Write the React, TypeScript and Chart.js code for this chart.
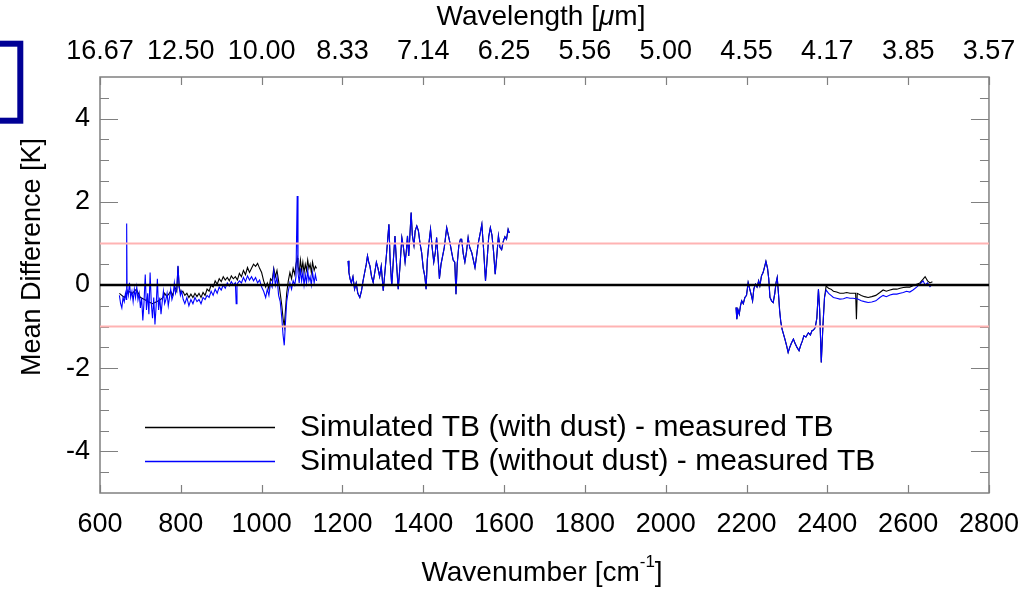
import React, { useEffect, useRef } from "react";
import { Chart, registerables } from "chart.js";
Chart.register(...registerables);

const FONT = "'Liberation Sans', Arial, Helvetica, sans-serif";

// Axis ticks
const xTickValues = [600, 800, 1000, 1200, 1400, 1600, 1800, 2000, 2200, 2400, 2600, 2800];
const yTickValues = [-4, -2, 0, 2, 4];
const refLevels = [-1, 1];
const zeroLevel = 0;

// Blue: Simulated TB (without dust) - measured TB
const blueWn1 = [648, 651, 654, 657, 660, 663, 665, 666, 667, 670, 673, 676, 679, 682, 685, 688, 691, 694, 697, 700, 703, 706, 709, 712, 715, 718, 721, 724, 727, 730, 733, 736, 739, 742, 745, 748, 751, 754, 757, 760, 763, 766, 769, 772, 775, 778, 781, 784, 787, 790, 793, 796, 799, 802, 806, 810, 815, 820, 825, 830, 835, 840, 845, 850, 855, 860, 865, 870, 875, 880, 885, 890, 895, 900, 905, 910, 915, 920, 925, 930, 935, 937, 939, 945, 950, 955, 960, 965, 970, 975, 980, 985, 990, 995, 1000, 1005, 1010, 1014, 1018, 1022, 1026, 1030, 1034, 1038, 1042, 1046, 1050, 1053, 1056, 1059, 1062, 1066, 1070, 1074, 1078, 1082, 1085, 1088, 1090, 1093, 1096, 1099, 1102, 1105, 1108, 1111, 1114, 1117, 1120, 1123, 1126, 1130, 1133, 1136];
const blueVal1 = [-0.25, -0.45, -0.55, -0.3, -0.4, -0.2, -0.35, 1.48, -0.1, -0.25, 0.05, -0.3, -0.15, -0.4, -0.1, -0.3, -0.05, -0.35, -0.2, -0.55, -0.3, -0.85, -0.4, 0.25, -0.6, -0.2, -0.7, 0.3, -0.45, -0.8, -0.3, -0.95, -0.5, 0.15, -0.6, -0.3, -0.7, -0.4, -0.15, -0.45, -0.35, -0.2, -0.5, -0.3, -0.1, -0.35, -0.25, 0.05, -0.2, -0.1, 0.46, -0.05, -0.25, -0.15, -0.35, -0.45, -0.3, -0.5, -0.35, -0.45, -0.3, -0.4, -0.35, -0.45, -0.3, -0.35, -0.25, -0.3, -0.15, -0.25, -0.1, -0.2, -0.05, -0.12, 0.0, -0.08, 0.05, -0.02, 0.08, 0.0, 0.05, -0.45, 0.02, 0.1, 0.05, 0.18, 0.08, 0.22, 0.12, 0.2, 0.1, 0.18, 0.05, 0.12, -0.05, -0.15, -0.3, -0.1, -0.25, 0.05, -0.05, 0.35, 0.0, 0.2, -0.25, -0.4, -0.8, -1.2, -1.45, -0.9, -0.4, -0.15, 0.05, -0.1, 0.1, 0.0, 0.2, 2.14, 0.3, 0.05, 0.4, 0.1, 0.3, 0.0, 0.25, 0.05, 0.35, 0.1, 0.2, 0.0, 0.3, 0.05, 0.25, 0.1];

const blueWn2 = [1214, 1216, 1219, 1222, 1226, 1230, 1234, 1238, 1243, 1247, 1251, 1255, 1259, 1262, 1265, 1268, 1272, 1276, 1280, 1284, 1288, 1292, 1296, 1301, 1305, 1309, 1312, 1315, 1318, 1322, 1326, 1330, 1334, 1338, 1342, 1347, 1351, 1355, 1358, 1361, 1364, 1367, 1370, 1373, 1377, 1380, 1384, 1388, 1392, 1396, 1400, 1404, 1407, 1410, 1414, 1418, 1422, 1426, 1430, 1433, 1437, 1440, 1444, 1448, 1452, 1458, 1462, 1466, 1470, 1474, 1478, 1481, 1484, 1488, 1492, 1495, 1499, 1503, 1507, 1511, 1515, 1520, 1524, 1528, 1532, 1536, 1540, 1545, 1549, 1554, 1558, 1562, 1566, 1570, 1574, 1578, 1582, 1586, 1590, 1594, 1598, 1602, 1606, 1610, 1613];
const blueVal2 = [0.58, 0.3, 0.14, 0.05, 0.2, -0.1, 0.05, -0.2, -0.3, -0.15, 0.1, 0.3, 0.5, 0.7, 0.55, 0.46, 0.2, 0.06, 0.3, 0.55, 0.4, 0.2, 0.45, -0.14, 0.3, 0.74, 1.1, 1.46, 0.6, -0.02, 0.6, 1.18, 0.5, -0.1, 0.4, 1.14, 0.9, 0.55, 0.8, 1.18, 0.7, 1.2, 1.74, 1.2, 0.95, 1.3, 1.42, 1.3, 1.0, 0.78, 0.4, 0.2, -0.1, 0.6, 1.0, 1.34, 0.9, 0.55, 0.8, 1.14, 0.6, 0.15, 0.5, 0.7, 0.9, 1.38, 1.2, 1.02, 0.8, 0.6, 0.55, -0.22, 0.5, 0.95, 1.1, 1.1, 0.75, 0.55, 0.8, 1.14, 0.9, 0.78, 0.6, 0.42, 0.7, 1.0, 1.2, 1.46, 0.9, 0.1, 0.6, 1.16, 1.38, 1.2, 0.8, 0.26, 0.7, 1.18, 0.9, 0.85, 1.05, 1.16, 1.1, 1.34, 1.25];

const blueWn3 = [2174, 2176, 2179, 2182, 2185, 2188, 2192, 2196, 2200, 2204, 2208, 2212, 2215, 2218, 2222, 2226, 2230, 2233, 2237, 2241, 2245, 2248, 2252, 2255, 2258, 2262, 2266, 2270, 2273, 2276, 2279, 2282, 2285, 2288, 2292, 2295, 2299, 2303, 2307, 2311, 2316, 2320, 2325, 2330, 2334, 2338, 2342, 2347, 2353, 2358, 2362, 2366, 2370, 2374, 2378, 2381, 2385, 2389, 2393, 2397, 2403, 2409, 2415, 2423, 2431, 2440, 2448, 2456, 2464, 2470, 2474, 2484, 2492, 2501, 2510, 2520, 2530, 2538, 2546, 2555, 2563, 2572, 2580, 2588, 2596, 2604, 2612, 2621, 2629, 2637, 2642, 2648, 2654, 2660];
const blueVal3 = [-0.54, -0.82, -0.6, -0.7, -0.5, -0.38, -0.45, -0.3, -0.25, 0.06, -0.1, -0.25, -0.38, -0.1, 0.02, -0.05, 0.1, -0.02, 0.22, 0.3, 0.45, 0.57, 0.4, 0.15, -0.3, -0.38, -0.42, -0.2, 0.05, 0.18, -0.2, -0.62, -0.9, -1.06, -1.2, -1.3, -1.45, -1.62, -1.5, -1.4, -1.3, -1.4, -1.5, -1.58, -1.45, -1.35, -1.22, -1.25, -1.15, -1.2, -1.1, -1.08, -1.02, -0.8, -0.1, -0.6, -1.86, -1.0, -0.3, -0.12, -0.2, -0.25, -0.3, -0.32, -0.34, -0.33, -0.3, -0.32, -0.32, -0.33, -0.33, -0.38, -0.4, -0.42, -0.41, -0.38, -0.3, -0.25, -0.28, -0.24, -0.22, -0.22, -0.2, -0.18, -0.15, -0.17, -0.12, -0.05, 0.02, 0.1, 0.0, 0.05, -0.04, 0.02];

// Black: Simulated TB (with dust) - measured TB
const blackWn1 = [648, 660, 670, 680, 690, 700, 710, 720, 730, 740, 750, 756, 760, 765, 770, 775, 780, 785, 790, 793, 796, 800, 805, 810, 815, 820, 825, 830, 835, 840, 845, 850, 855, 860, 865, 870, 875, 880, 885, 890, 895, 900, 905, 910, 915, 920, 925, 930, 935, 940, 945, 950, 955, 960, 965, 970, 975, 980, 985, 990, 995, 1000, 1005, 1010, 1014, 1018, 1022, 1026, 1030, 1034, 1038, 1042, 1046, 1050, 1053, 1056, 1059, 1062, 1066, 1070, 1074, 1078, 1082, 1085, 1088, 1090, 1093, 1096, 1099, 1102, 1105, 1108, 1111, 1114, 1117, 1120, 1123, 1126, 1130, 1133, 1136];
const blackVal1 = [-0.2, -0.3, -0.15, -0.2, -0.1, -0.3, -0.35, -0.4, -0.45, -0.4, -0.35, -0.3, -0.2, -0.28, -0.22, -0.15, -0.25, -0.05, -0.15, 0.45, -0.05, -0.2, -0.15, -0.25, -0.2, -0.3, -0.22, -0.3, -0.2, -0.28, -0.2, -0.3, -0.18, -0.25, -0.1, -0.15, 0.0, -0.05, 0.1, 0.02, 0.15, 0.08, 0.2, 0.12, 0.18, 0.1, 0.22, 0.15, 0.2, 0.12, 0.28, 0.2, 0.35, 0.25, 0.42, 0.3, 0.4, 0.5, 0.45, 0.52, 0.4, 0.3, 0.1, -0.05, 0.05, -0.1, 0.15, 0.1, 0.4, 0.2, 0.35, 0.1, -0.2, -0.5, -0.8, -1.0, -0.6, -0.2, 0.1, 0.3, 0.15, 0.4, 0.25, 0.5, 0.65, 0.45, 0.3, 0.6, 0.35, 0.55, 0.3, 0.5, 0.35, 0.6, 0.4, 0.5, 0.3, 0.55, 0.35, 0.45, 0.4];

const blackWn2 = blueWn2;
const blackVal2 = blueVal2;

const blackWn3 = [2174, 2176, 2179, 2182, 2185, 2188, 2192, 2196, 2200, 2204, 2208, 2212, 2215, 2218, 2222, 2226, 2230, 2233, 2237, 2241, 2245, 2248, 2252, 2255, 2258, 2262, 2266, 2270, 2273, 2276, 2279, 2282, 2285, 2288, 2292, 2295, 2299, 2303, 2307, 2311, 2316, 2320, 2325, 2330, 2334, 2338, 2342, 2347, 2353, 2358, 2362, 2366, 2370, 2374, 2378, 2381, 2385, 2389, 2393, 2397, 2403, 2409, 2415, 2423, 2431, 2440, 2448, 2456, 2464, 2470, 2472, 2474, 2484, 2492, 2501, 2510, 2520, 2530, 2538, 2546, 2555, 2563, 2572, 2580, 2588, 2596, 2604, 2612, 2621, 2629, 2637, 2642, 2648, 2654, 2660];
const blackVal3 = [-0.54, -0.82, -0.6, -0.7, -0.5, -0.38, -0.45, -0.3, -0.25, 0.06, -0.1, -0.25, -0.38, -0.1, 0.02, -0.05, 0.1, -0.02, 0.22, 0.3, 0.45, 0.57, 0.4, 0.15, -0.3, -0.38, -0.42, -0.2, 0.05, 0.18, -0.2, -0.62, -0.9, -1.06, -1.2, -1.3, -1.45, -1.62, -1.5, -1.4, -1.3, -1.4, -1.5, -1.58, -1.45, -1.35, -1.22, -1.25, -1.15, -1.2, -1.1, -1.08, -1.02, -0.8, -0.1, -0.6, -1.86, -1.0, -0.3, -0.02, -0.08, -0.1, -0.15, -0.17, -0.2, -0.2, -0.18, -0.2, -0.2, -0.2, -0.82, -0.2, -0.25, -0.28, -0.3, -0.28, -0.25, -0.18, -0.12, -0.15, -0.12, -0.1, -0.1, -0.08, -0.06, -0.05, -0.05, -0.02, 0.02, 0.05, 0.14, 0.2, 0.1, 0.05, 0.08];

const legendLabels = [
  "Simulated TB (with dust) - measured TB",
  "Simulated TB (without dust) - measured TB",
];
const seriesColors = ["#000000", "#0000ff"];

type P = { x: number; y: number | null };
function segment(wn: number[], val: number[]): P[] {
  return wn.map((x, i) => ({ x, y: val[i] }));
}
function joinSegments(segs: P[][]): P[] {
  const out: P[] = [];
  segs.forEach((s, i) => {
    if (i > 0) out.push({ x: (out[out.length - 1].x + s[0].x) / 2, y: null });
    out.push(...s);
  });
  return out;
}

const decorPlugin = {
  id: "decor",
  beforeDatasetsDraw(chart: any) {
    const { ctx, chartArea: a, scales } = chart;
    const xs = scales.x;
    const ys = scales.y;
    ctx.save();
    // frame
    ctx.strokeStyle = "#808080";
    ctx.lineWidth = 1.5;
    ctx.strokeRect(a.left, a.top, a.right - a.left, a.bottom - a.top);
    // x ticks (inward)
    ctx.lineWidth = 1.2;
    xTickValues.forEach((v) => {
      const px = Math.round(xs.getPixelForValue(v)) + 0.5;
      ctx.beginPath();
      ctx.moveTo(px, a.bottom);
      ctx.lineTo(px, a.bottom - 8);
      ctx.moveTo(px, a.top);
      ctx.lineTo(px, a.top + 8);
      ctx.stroke();
    });
    // y ticks every 0.5, long at labelled values
    for (let k = -9; k <= 9; k++) {
      const v = k / 2;
      const py = Math.round(ys.getPixelForValue(v)) + 0.5;
      const len = yTickValues.includes(v) ? 18 : 9;
      ctx.beginPath();
      ctx.moveTo(a.left, py);
      ctx.lineTo(a.left + len, py);
      ctx.moveTo(a.right, py);
      ctx.lineTo(a.right - len, py);
      ctx.stroke();
    }
    ctx.restore();
  },
  afterDraw(chart: any) {
    const { ctx } = chart;
    ctx.save();
    // blue box (cropped) top-left
    ctx.strokeStyle = "#000096";
    ctx.lineWidth = 6;
    ctx.strokeRect(-20, 43.7, 40.3, 77);

    ctx.fillStyle = "#000";
    // Y title
    ctx.save();
    ctx.translate(33, 257);
    ctx.rotate(-Math.PI / 2);
    ctx.font = `27px ${FONT}`;
    ctx.textAlign = "center";
    ctx.textBaseline = "middle";
    ctx.fillText("Mean Difference [K]", 0, 0);
    ctx.restore();

    // Top title
    ctx.font = `28px ${FONT}`;
    ctx.textAlign = "left";
    ctx.textBaseline = "middle";
    const t1 = "Wavelength [";
    const t2 = "\u03bc";
    const t3 = "m]";
    const w1 = ctx.measureText(t1).width;
    ctx.font = `italic 28px ${FONT}`;
    const w2 = ctx.measureText(t2).width;
    ctx.font = `28px ${FONT}`;
    const w3 = ctx.measureText(t3).width;
    let sx = 541 - (w1 + w2 + w3) / 2;
    ctx.fillText(t1, sx, 17);
    ctx.font = `italic 28px ${FONT}`;
    ctx.fillText(t2, sx + w1, 17);
    ctx.font = `28px ${FONT}`;
    ctx.fillText(t3, sx + w1 + w2, 17);

    // Bottom title with superscript
    const b1 = "Wavenumber [cm";
    const b2 = "-1";
    const b3 = "]";
    ctx.font = `28px ${FONT}`;
    const bw1 = ctx.measureText(b1).width;
    const bw3 = ctx.measureText(b3).width;
    ctx.font = `17px ${FONT}`;
    const bw2 = ctx.measureText(b2).width;
    sx = 542 - (bw1 + bw2 + bw3) / 2;
    ctx.font = `28px ${FONT}`;
    ctx.fillText(b1, sx, 573);
    ctx.font = `17px ${FONT}`;
    ctx.fillText(b2, sx + bw1, 562);
    ctx.font = `28px ${FONT}`;
    ctx.fillText(b3, sx + bw1 + bw2, 573);

    // Legend
    const ly = [427, 461];
    ctx.font = `30px ${FONT}`;
    ctx.textBaseline = "middle";
    legendLabels.forEach((lab, i) => {
      ctx.strokeStyle = seriesColors[i];
      ctx.lineWidth = 1.6;
      ctx.beginPath();
      ctx.moveTo(145, ly[i] + 0.5);
      ctx.lineTo(275, ly[i] + 0.5);
      ctx.stroke();
      ctx.fillStyle = "#000";
      ctx.fillText(lab, 300, ly[i] + 1);
    });
    ctx.restore();
  },
};

export default function App() {
  const ref = useRef<HTMLCanvasElement | null>(null);
  useEffect(() => {
    if (!ref.current) return;
    const blue = joinSegments([
      segment(blueWn1, blueVal1),
      segment(blueWn2, blueVal2),
      segment(blueWn3, blueVal3),
    ]);
    const black = joinSegments([
      segment(blackWn1, blackVal1),
      segment(blackWn2, blackVal2),
      segment(blackWn3, blackVal3),
    ]);
    const hline = (v: number) => [
      { x: 600, y: v },
      { x: 2800, y: v },
    ];
    const tickFont = { family: FONT, size: 27 };
    const chart = new Chart(ref.current, {
      type: "line",
      data: {
        datasets: [
          { data: hline(zeroLevel), borderColor: "#000", borderWidth: 2.5, order: 0 },
          ...refLevels.map((v) => ({ data: hline(v), borderColor: "#ffb3b3", borderWidth: 2, order: 1 })),
          { data: blue, borderColor: seriesColors[1], borderWidth: 1.1, order: 2 },
          { data: black, borderColor: seriesColors[0], borderWidth: 1.1, order: 3 },
        ] as any,
      },
      options: {
        animation: false,
        responsive: false,
        events: [],
        layout: { padding: 0 },
        elements: { point: { radius: 0 }, line: { tension: 0 } },
        spanGaps: false,
        plugins: { legend: { display: false }, tooltip: { enabled: false } },
        scales: {
          x: {
            type: "linear",
            position: "bottom",
            min: 600,
            max: 2800,
            afterBuildTicks: (s: any) => {
              s.ticks = xTickValues.map((v) => ({ value: v }));
            },
            afterFit: (s: any) => {
              s.height = 98;
            },
            grid: { display: false, drawTicks: true, tickLength: 15 },
            border: { display: false },
            ticks: {
              font: tickFont,
              color: "#000",
              padding: 0,
              maxRotation: 0,
              autoSkip: false,
              callback: (v: any) => String(v),
            },
          },
          x2: {
            type: "linear",
            position: "top",
            min: 600,
            max: 2800,
            afterBuildTicks: (s: any) => {
              s.ticks = xTickValues.map((v) => ({ value: v }));
            },
            afterFit: (s: any) => {
              s.height = 77;
            },
            grid: { display: false, drawTicks: true, tickLength: 9 },
            border: { display: false },
            ticks: {
              font: tickFont,
              color: "#000",
              padding: 0,
              maxRotation: 0,
              autoSkip: false,
              callback: (v: any) => (10000 / Number(v)).toFixed(2),
            },
          },
          y: {
            type: "linear",
            position: "left",
            min: -5,
            max: 5,
            afterBuildTicks: (s: any) => {
              s.ticks = yTickValues.map((v) => ({ value: v }));
            },
            afterFit: (s: any) => {
              s.width = 100;
            },
            grid: { display: false },
            border: { display: false },
            ticks: { font: tickFont, color: "#000", padding: 2, callback: (v: any) => String(v) },
          },
          y2: {
            type: "linear",
            position: "right",
            min: -5,
            max: 5,
            afterFit: (s: any) => {
              s.width = 30;
            },
            grid: { display: false },
            border: { display: false },
            ticks: { display: false },
          },
        },
      } as any,
      plugins: [decorPlugin],
    });
    return () => chart.destroy();
  }, []);
  return (
    <div style={{ position: "absolute", left: 0, top: 0, width: 1019, height: 591, background: "#fff" }}>
      <canvas ref={ref} width={1019} height={591} style={{ display: "block" }} />
    </div>
  );
}
